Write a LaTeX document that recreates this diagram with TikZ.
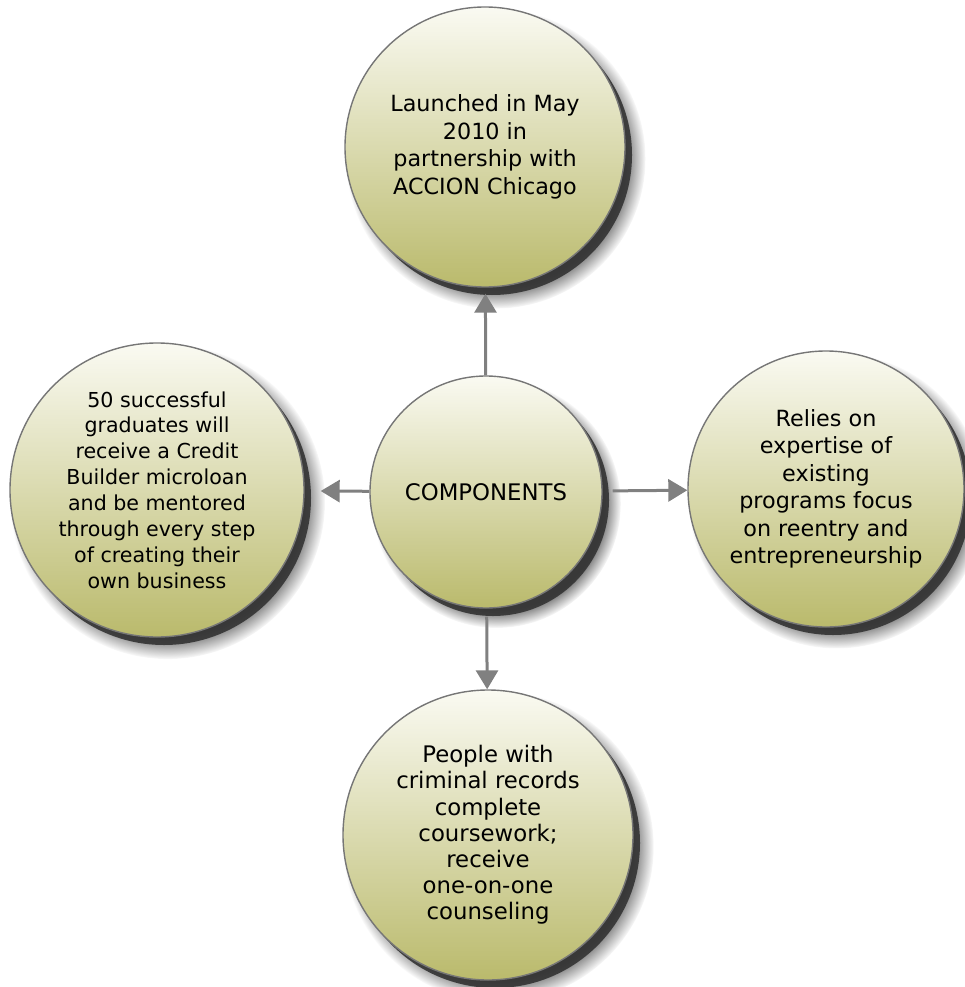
\documentclass[tikz,border=0pt]{standalone}
\usepackage{fontspec}
\setmainfont{DejaVu Sans}
\usepackage{tikz}
\usetikzlibrary{arrows.meta,shadows,fadings,positioning}
\definecolor{bubbletop}{RGB}{250,250,242}
\definecolor{bubblemid}{RGB}{222,224,176}
\definecolor{bubblebot}{RGB}{186,186,108}
\definecolor{rimgray}{RGB}{118,118,118}
\definecolor{linkgray}{RGB}{128,128,128}
\tikzset{%
    bubble/.style={%
        circle, draw=rimgray, line width=1.4pt, inner sep=0pt, align=center,
        top color=bubbletop, middle color=bubblemid, bottom color=bubblebot,
        circular drop shadow={shadow xshift=10pt, shadow yshift=-11pt, shadow scale=1.07, fill=black!60, opacity=1},
        drop shadow={shadow xshift=7pt, shadow yshift=-8pt, fill=black!80, opacity=0.9},
        font=\fontsize{22.3}{27.5}\selectfont
    },
    hub/.style={%
        bubble, font=\fontsize{22.8}{27}\selectfont
    },
    link/.style={%
        -{Triangle[width=22pt,length=19pt]}, line width=3pt, draw=linkgray, fill=linkgray
    },
}

\begin{document}
\begin{tikzpicture}[x=1pt,y=1pt]
      \useasboundingbox (0,0) rectangle (965,-987);

      \node[hub, minimum size=232pt] (comp) at (486,-492) {COMPONENTS};

      \node[bubble, minimum size=280pt] (launch) at (485,-147)
        {Launched in May\\2010 in\\partnership with\\ACCION Chicago};
      \node[bubble, minimum size=294pt, font=\fontsize{20.6}{25.9}\selectfont] (grads) at (157,-490)
        {50 successful\\graduates will\\receive a Credit\\Builder microloan\\and be mentored\\through every step\\of creating their\\own business};
      \node[bubble, minimum size=276pt] (relies) at (826,-489)
        {Relies on\\expertise of\\existing\\programs focus\\on reentry and\\entrepreneurship};
      \node[bubble, minimum size=290pt, font=\fontsize{22.8}{26.2}\selectfont] (people) at (488,-835)
        {People with\\criminal records\\complete\\coursework;\\receive\\one-on-one\\counseling};

      \draw [link, shorten >=6pt] (comp) -- (launch);
      \draw [link, shorten >=16pt] (comp) -- (grads);
      \draw [link, shorten <=10pt] (comp) -- (relies);
      \draw [link, shorten <=8pt] (comp) -- (people);
    \end{tikzpicture}
\end{document}
